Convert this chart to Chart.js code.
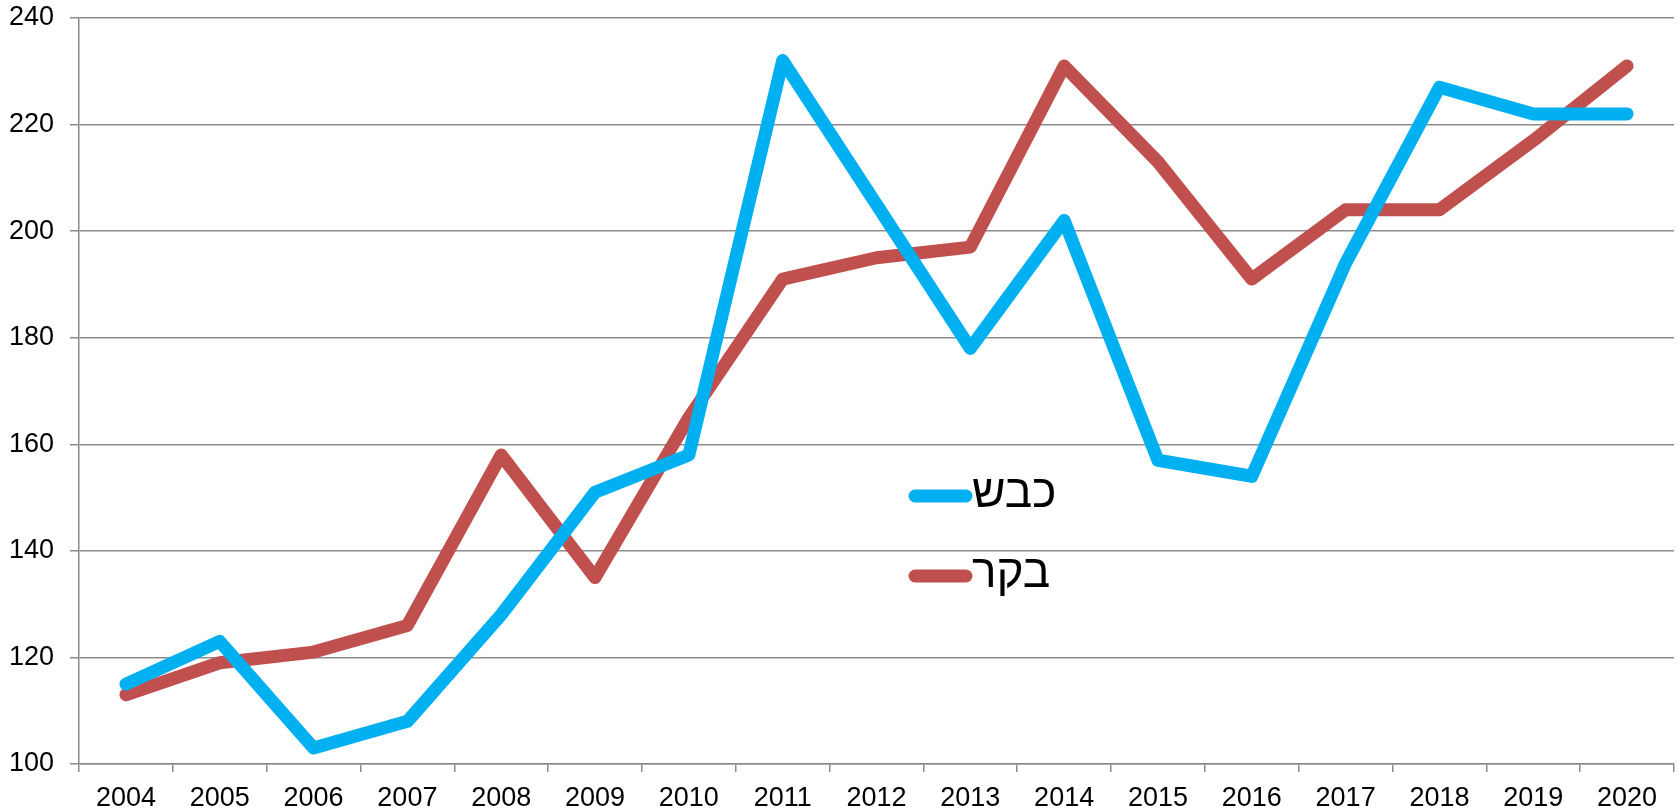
<!DOCTYPE html>
<html>
<head>
<meta charset="utf-8">
<script src="https://cdn.jsdelivr.net/npm/chart.js@4"></script>
<style>
  html, body { margin: 0; padding: 0; background: #fff; }
</style>
</head>
<body>
<canvas id="lineChart" width="1679" height="812"></canvas>
<script>
const years = ['2004', '2005', '2006', '2007', '2008', '2009', '2010', '2011', '2012',
               '2013', '2014', '2015', '2016', '2017', '2018', '2019', '2020'];
const sheep = [115, 123, 103, 108, 128, 151, 158, 232, 205, 178, 202, 157, 154, 194, 227, 222, 222];
const cattle = [113, 119, 121, 126, 158, 135, 165, 191, 195, 197, 231, 213, 191, 204, 204, 217, 231];
const seriesNames = ['כבש', 'בקר'];
const yTicks = [100, 120, 140, 160, 180, 200, 220, 240];

const gridColor = '#8c8c8c';

// legend drawn inside the plot, like the original
const innerLegend = {
  id: 'innerLegend',
  afterDatasetsDraw(chart) {
    const ctx = chart.ctx;
    const rows = [496, 576];
    ctx.save();
    chart.data.datasets.forEach((ds, i) => {
      const y = rows[i];
      ctx.strokeStyle = ds.borderColor;
      ctx.lineWidth = 13;
      ctx.lineCap = 'round';
      ctx.beginPath();
      ctx.moveTo(915, y);
      ctx.lineTo(966, y);
      ctx.stroke();
      ctx.fillStyle = '#000';
      ctx.font = '46px "Liberation Sans", Arial, sans-serif';
      ctx.textAlign = 'left';
      ctx.textBaseline = 'middle';
      ctx.fillText(ds.label, 972, y - 2);
    });
    ctx.restore();
  }
};

new Chart(document.getElementById('lineChart'), {
  type: 'line',
  data: {
    labels: years,
    datasets: [{
      label: seriesNames[0],
      data: sheep,
      borderColor: '#00b0f0',
      backgroundColor: '#00b0f0'
    }, {
      label: seriesNames[1],
      data: cattle,
      borderColor: '#c0504d',
      backgroundColor: '#c0504d'
    }]
  },
  options: {
    responsive: false,
    animation: false,
    layout: { padding: { top: 18, right: 5, left: 0, bottom: 0 } },
    elements: {
      line: { borderWidth: 13, tension: 0, borderCapStyle: 'round', borderJoinStyle: 'round' },
      point: { radius: 0, hoverRadius: 0 }
    },
    plugins: {
      legend: { display: false },
      tooltip: { enabled: false }
    },
    scales: {
      x: {
        offset: true,
        grid: { offset: true, drawOnChartArea: false, tickLength: 8, color: gridColor, lineWidth: 1.5 },
        border: { color: gridColor, width: 1.5 },
        ticks: {
          color: '#000',
          padding: 10,
          maxRotation: 0,
          autoSkip: false,
          font: { family: '"Liberation Sans", Arial, sans-serif', size: 27 }
        },
        afterFit(scale) {
          scale.height = 48;
          scale.paddingLeft = 0;
          scale.paddingRight = 0;
        }
      },
      y: {
        min: 100,
        max: 240,
        afterBuildTicks(scale) { scale.ticks = yTicks.map(v => ({ value: v })); },
        grid: { tickLength: 9, color: gridColor, lineWidth: 1.5 },
        border: { color: gridColor, width: 1.5 },
        ticks: {
          color: '#000',
          padding: 16,
          font: { family: '"Liberation Sans", Arial, sans-serif', size: 27 }
        },
        afterFit(scale) {
          scale.width = 79;
          scale.paddingTop = 0;
          scale.paddingBottom = 0;
        }
      }
    }
  },
  plugins: [innerLegend]
});
</script>
</body>
</html>
